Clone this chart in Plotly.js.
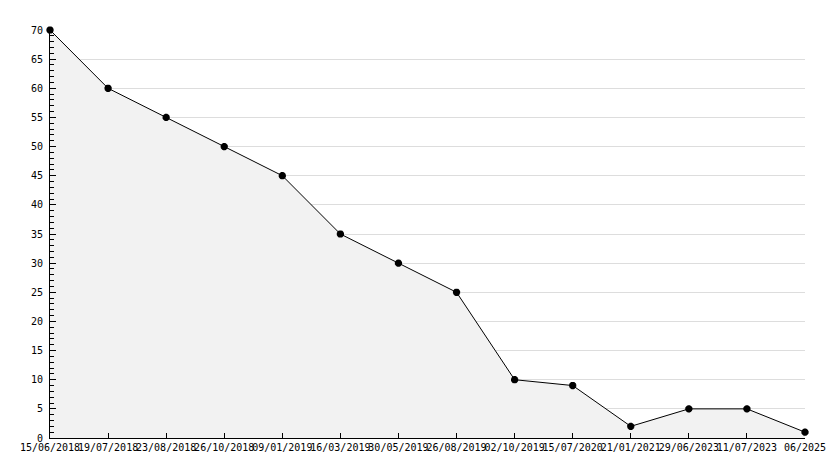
<!DOCTYPE html>
<html><head><meta charset="utf-8">
<script src="https://cdn.plot.ly/plotly-3.0.1.min.js"></script>
<style>html,body{margin:0;padding:0;background:#fff}#chart{width:834px;height:468px}</style>
</head><body><div id="chart"></div>
<script>
const dates = ["15/06/2018","19/07/2018","23/08/2018","26/10/2018","09/01/2019","16/03/2019","30/05/2019","26/08/2019","02/10/2019","15/07/2020","21/01/2021","29/06/2023","11/07/2023","06/2025"];
const values = [70,60,55,50,45,35,30,25,10,9,2,5,5,1];
const yTicks = [0,5,10,15,20,25,30,35,40,45,50,55,60,65,70];

const trace = {
  x: dates.map((d,i)=>i),
  y: values,
  type: 'scatter',
  mode: 'lines+markers',
  fill: 'tozeroy',
  fillcolor: '#f2f2f2',
  cliponaxis: false,
  line: {color:'#000', width:1},
  marker: {symbol:'asterisk-open', size:6, color:'#000', line:{color:'#000', width:2.5}},
  hoverinfo: 'skip'
};
const layout = {
  width: 834, height: 468,
  margin: {l:50, r:29, t:30, b:30},
  paper_bgcolor:'#fff', plot_bgcolor:'#fff',
  showlegend:false,
  font: {family:'DejaVu Sans Mono, monospace', size:10, color:'#000'},
  xaxis: {
    range:[0,13], tickmode:'array', tickvals: dates.map((d,i)=>i), ticktext: dates,
    showgrid:false, zeroline:false, showline:true, linecolor:'#000', linewidth:1,
    ticks:'inside', ticklen:5, tickcolor:'#000', tickangle:0, fixedrange:true
  },
  yaxis: {
    range:[0,70], tickmode:'array', tickvals: yTicks,
    showgrid:true, gridcolor:'#dddddd', gridwidth:1, zeroline:false,
    showline:true, linecolor:'#000', linewidth:1,
    ticks:'inside', ticklen:6, tickcolor:'#000', ticklabelstandoff:4,
    minor:{dtick:1, ticks:'inside', ticklen:4, tickcolor:'#000', showgrid:false}
  }
};
Plotly.newPlot('chart',[trace],layout,{staticPlot:true,displayModeBar:false});
</script></body></html>
